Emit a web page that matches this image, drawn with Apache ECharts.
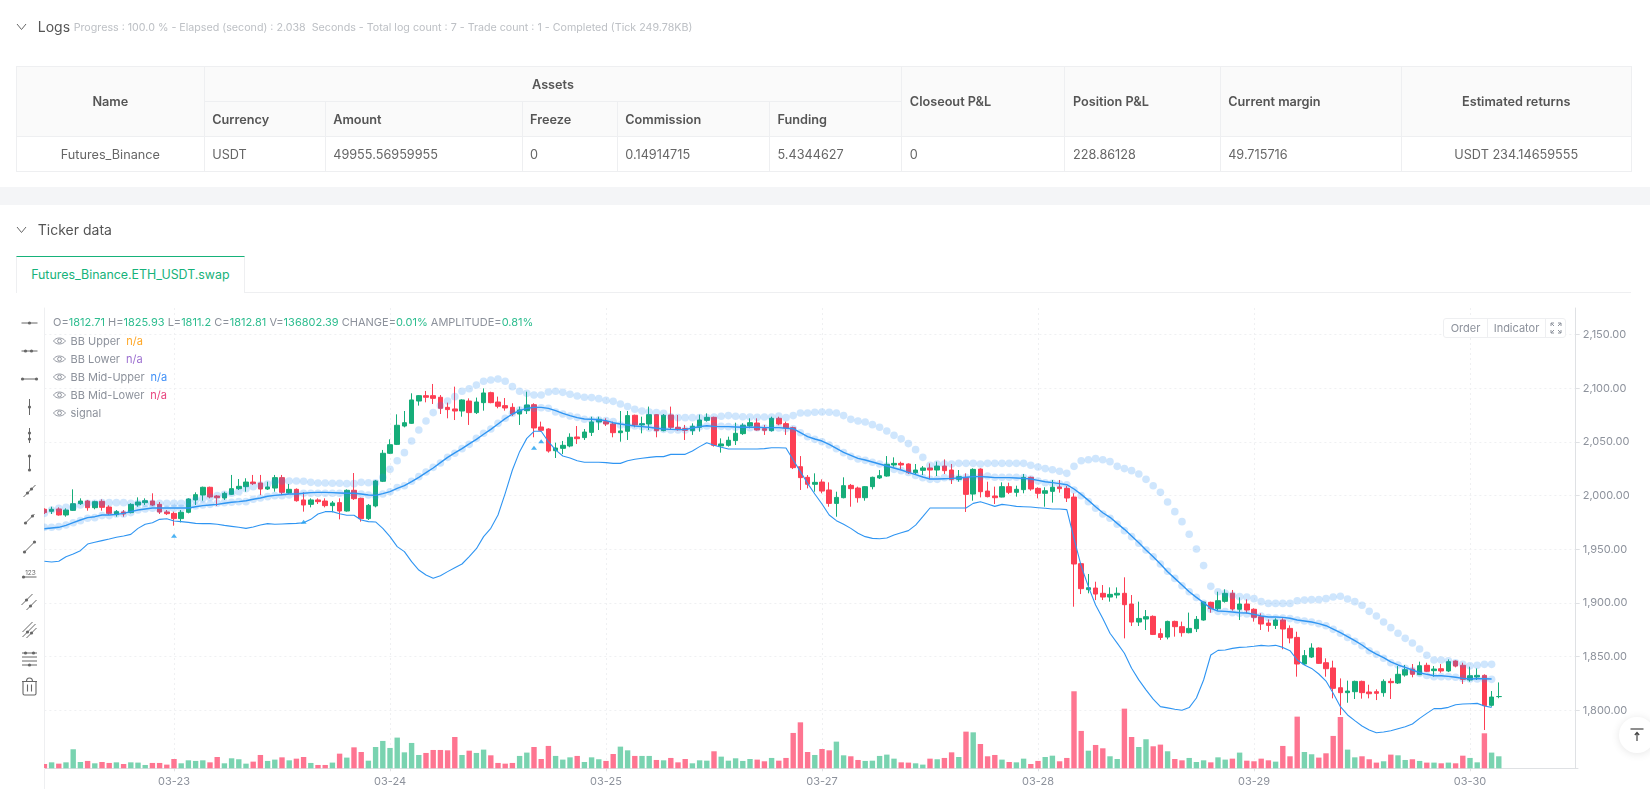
<!DOCTYPE html>
<html><head><meta charset="utf-8"><title>Ticker data</title>
<script src="https://cdn.jsdelivr.net/npm/echarts@6/dist/echarts.min.js"></script>
<style>
html,body{margin:0;padding:0;background:#fff;font-family:Inter,"Noto Sans",sans-serif;overflow:hidden;width:1650px;height:803px}
.abs{position:absolute}
#band{left:0;top:187px;width:1650px;height:18px;background:#f4f5f7}
.hd{font-size:14px;color:#555;line-height:20px;white-space:nowrap}
.sub{font-size:10.7px;color:#bdc0c5;line-height:20px;white-space:pre}
table{position:absolute;left:16px;top:66px;border-collapse:collapse;table-layout:fixed;width:1615px;font-size:12.7px;color:#666}
td,th{border:1px solid #eeeff1;padding:0 7.5px;text-align:left;overflow:hidden;white-space:nowrap}
th{background:#fafafa;color:#555;font-weight:600}
.c{text-align:center}
#tab{left:16px;top:256px;width:228.7px;height:36.7px;border:1px solid #eeeff1;border-top:1px solid #16b27a;border-bottom:none;box-sizing:border-box;color:#16b27a;font-size:12.4px;line-height:35px;text-align:center;background:#fff}
#tabline{left:16px;top:292px;width:1615px;height:1px;background:#eeeff1}
#chart{left:0;top:0;width:1650px;height:803px}
#leftext{left:44px;top:768px;width:1px;height:21px;background:#eeeff1}
#leftmask{left:36px;top:308px;width:8px;height:461px;background:#fff}
.lg{left:53px;font-size:11px;color:#8c919b;white-space:nowrap;line-height:18px}
.lg b{font-weight:400}
.eye{position:absolute;left:0;top:3px}
.btns{left:1443px;top:317.5px;width:123px;height:20px;border:1px solid #eeeff1;border-radius:3px;background:#fff;box-sizing:border-box;font-size:11px;color:#8c919b;line-height:18px}
.btns span{position:absolute;top:0;height:18px;text-align:center}
#top{left:1618.5px;top:717px;width:36px;height:36px;border-radius:50%;background:#fff;box-shadow:0 1px 8px rgba(0,0,0,.1)}
</style></head><body>
<div id="chart" class="abs"></div>
<div id="leftmask" class="abs"></div>
<div id="band" class="abs"></div>
<div id="leftext" class="abs"></div>
<svg class="abs" style="left:16px;top:22px" width="12" height="10"><path d="M1 2 L5.5 7.5 L10 2" fill="none" stroke="#666" stroke-width="1"/></svg>
<div class="abs hd" style="left:37.8px;top:17px">Logs</div>
<div class="abs sub" style="left:73.7px;top:17.5px" id="prog"></div>
<table id="tb"></table>
<svg class="abs" style="left:16px;top:225px" width="12" height="10"><path d="M1 2 L5.5 7.5 L10 2" fill="none" stroke="#666" stroke-width="1"/></svg>
<div class="abs hd" style="left:37.8px;top:220px">Ticker data</div>
<div id="tabline" class="abs"></div>
<div id="tab" class="abs">Futures_Binance.ETH_USDT.swap</div>
<svg id="tools" class="abs" style="left:0;top:300px" width="44" height="400"></svg>
<div id="legend"></div>
<div class="abs btns"><span style="left:0;width:43px;border-right:1px solid #eeeff1">Order</span><span style="left:44px;width:57px;border-right:1px solid #eeeff1">Indicator</span>
<svg class="abs" style="left:106px;top:3.5px" width="12" height="12"><path d="M1 4V1H4M1 1L4 4M8 1H11V4M11 1L8 4M11 8V11H8M11 11L8 8M4 11H1V8M1 11L4 8" fill="none" stroke="#8c919b" stroke-width="1"/></svg></div>
<div id="top" class="abs"><svg width="36" height="36"><path d="M11.5 12H24.5" stroke="#444" stroke-width="1.2"/><path d="M18 24V15.5M15.8 18L18 15.5L20.2 18" stroke="#444" fill="none" stroke-width="1.2"/></svg></div>
<script>
const progressText='Progress : 100.0 % - Elapsed (second) : 2.038  Seconds - Total log count : 7 - Trade count : 1 - Completed (Tick 249.78KB)';
const tickIndex=[18,48,78,108,138,168,198];
const tickLabels=['03-23','03-24','03-25','03-27','03-28','03-29','03-30'];
const priceTicks=[1800,1850,1900,1950,2000,2050,2100,2150];
const opens=[1987.3,1985.4,1987.6,1982.0,1986.3,1992.5,1995.0,1988.8,1994.7,1989.4,
1982.3,1984.8,1984.2,1991.3,1993.5,1995.0,1991.9,1984.8,1983.5,1978.6,
1984.5,1996.0,2000.6,2007.8,1999.7,1997.8,2001.2,2006.5,2008.4,2012.7,
2011.8,2006.2,2007.1,2016.8,2002.5,2005.9,1996.0,1991.9,1996.0,1995.0,
1990.7,1993.5,1985.7,2005.0,1997.5,1978.6,1990.4,2013.4,2039.5,2047.8,
2064.9,2067.4,2088.2,2093.2,2093.2,2091.7,2082.3,2080.8,2078.9,2088.2,
2077.4,2086.7,2096.0,2087.3,2083.9,2082.3,2076.1,2079.2,2084.8,2064.0,
2062.1,2041.9,2044.1,2046.3,2054.7,2054.1,2059.0,2068.7,2069.0,2066.8,
2058.7,2060.0,2074.9,2065.9,2066.8,2075.5,2060.6,2075.2,2063.7,2062.5,
2060.6,2063.7,2070.2,2073.0,2046.3,2046.9,2051.3,2057.8,2064.9,2067.7,
2062.5,2060.6,2072.1,2067.1,
2063.4,2027.0,2017.1,2010.6,2012.7,2005.3,1992.8,1998.1,2009.6,2007.1,
1998.1,2008.4,2016.5,2018.3,2028.6,2030.1,2029.5,2021.4,2023.6,2025.8,
2023.9,2027.6,2023.9,2015.2,2016.8,2001.5,2024.8,2004.3,1999.7,1998.7,
2008.4,2003.1,2005.6,2017.1,2006.8,2002.2,2004.0,2008.1,2006.8,1998.7,
1936.6,1912.4,1913.9,1909.0,1905.5,1907.4,1909.0,1899.0,1882.2,1885.0,
1887.5,1871.4,1868.2,1882.8,
1877.9,1872.3,1876.0,1884.1,1900.6,1894.7,1901.5,1909.0,1894.1,1899.0,
1894.1,1887.2,1881.3,1879.1,1884.1,1876.3,1867.9,1843.1,1849.6,1858.0,
1844.3,1839.4,1821.0,1816.4,1817.3,1826.9,1817.0,1817.3,1816.4,1826.9,
1825.4,1832.8,1838.4,1833.2,1841.9,1836.9,1838.7,1836.6,1845.9,1841.9,
1828.2,1831.0,1832.5,1804.6,1812.71];
const closes=[1984.2,1987.3,1982.0,1986.6,1992.5,1995.0,1988.8,1994.4,1989.1,1983.5,
1985.1,1982.9,1991.9,1994.1,1995.3,1991.3,1984.8,1983.2,1978.6,1984.5,
1996.9,2000.9,2007.8,1998.8,1998.1,2002.2,2006.5,2008.7,2012.7,2011.2,
2006.2,2008.1,2016.8,2003.1,2005.9,1995.3,1991.3,1996.0,1994.4,1990.7,
1993.2,1985.7,2005.0,1997.2,1978.6,1991.0,2013.7,2039.5,2047.5,2065.6,
2068.0,2089.2,2093.2,2091.7,2090.7,2081.4,2080.2,2078.9,2089.2,2077.4,
2087.3,2095.7,2086.7,2083.3,2081.7,2076.1,2079.9,2084.5,2063.1,2060.9,
2041.6,2044.4,2046.9,2054.4,2053.1,2059.3,2068.7,2071.2,2066.8,2058.7,
2060.3,2074.6,2065.9,2067.1,2075.5,2060.6,2074.9,2063.7,2061.5,2060.9,
2064.6,2070.5,2073.0,2046.9,2048.2,2051.6,2058.1,2065.6,2068.0,2061.2,
2060.9,2072.1,2066.8,2063.1,
2026.1,2016.8,2010.6,2012.4,2004.3,1992.8,1998.4,2009.3,2006.5,1998.1,
2008.4,2017.1,2018.6,2029.2,2030.1,2028.6,2021.4,2023.9,2025.8,2023.9,
2027.6,2023.3,2015.2,2017.7,2001.2,2024.5,2003.7,1999.1,1998.1,2008.4,
2003.1,2005.9,2017.1,2006.2,2002.2,2004.6,2007.8,2006.5,1997.8,1936.3,
1913.3,1914.2,1908.3,1905.5,1908.0,1909.0,1898.4,1882.2,1885.6,1887.2,
1870.7,1867.9,1882.8,1877.9,
1872.3,1876.3,1884.7,1900.9,1894.7,1902.1,1909.0,1894.4,1899.0,1893.4,
1886.6,1880.4,1879.1,1884.1,1875.7,1867.3,1843.1,1850.9,1858.0,1843.7,
1838.7,1820.4,1816.4,1817.9,1826.9,1816.4,1815.4,1815.8,1826.9,1825.7,
1833.5,1837.8,1833.5,1841.5,1836.3,1838.4,1836.6,1845.3,1841.2,1828.8,
1832.2,1832.5,1804.3,1812.3,1812.81];
const lows=[1982.9,1982.9,1981.4,1980.4,1985.7,1991.3,1986.0,1987.3,1986.0,1982.0,
1980.4,1980.4,1983.5,1989.7,1991.3,1990.4,1982.9,1982.0,1972.0,1975.1,
1983.5,1991.3,1995.3,1997.5,1990.4,1996.0,2000.6,2005.3,2003.7,2009.9,
2000.6,2005.3,2003.7,2000.6,2001.6,1994.4,1985.1,1989.1,1992.2,1989.1,
1984.5,1977.9,1985.1,1996.0,1975.8,1977.3,1989.1,2012.7,2038.8,2047.2,
2063.7,2066.8,2083.9,2087.0,2085.4,2076.1,2072.1,2070.5,2073.6,2065.9,
2076.1,2079.2,2086.1,2081.4,2079.2,2074.3,2065.9,2076.1,2054.4,2059.7,
2040.1,2035.1,2038.8,2045.1,2048.2,2051.9,2055.6,2061.2,2064.9,2054.4,
2050.3,2051.9,2063.7,2058.1,2061.2,2054.4,2060.0,2061.2,2060.6,2051.9,
2056.6,2059.7,2069.0,2045.7,2040.1,2045.7,2047.2,2056.6,2062.8,2060.6,
2056.6,2059.7,2065.6,2056.6,
2024.8,2005.3,2006.8,2003.7,2002.2,1989.7,1980.4,1997.5,1989.7,1993.5,
1995.3,2005.9,2015.5,2017.7,2027.0,2024.5,2020.2,2020.2,2019.2,2015.2,
2018.3,2020.2,2010.9,2013.0,1984.8,1995.3,1998.4,1998.4,1992.2,1998.4,
2001.5,1999.1,2002.2,2004.6,1997.5,1989.7,1993.5,2002.8,1994.1,1896.5,
1908.3,1909.0,1902.7,1902.7,1901.2,1904.3,1867.0,1878.5,1878.5,1874.8,
1870.1,1865.5,1866.1,1868.6,
1868.6,1871.7,1872.9,1883.5,1890.9,1892.8,1900.3,1892.8,1884.1,1890.3,
1882.6,1874.8,1873.2,1875.7,1856.8,1862.4,1831.3,1842.2,1848.7,1843.1,
1831.3,1811.1,1795.5,1807.0,1810.5,1810.8,1811.1,1809.5,1812.6,1810.5,
1824.5,1831.3,1830.7,1832.8,1835.6,1831.3,1835.0,1835.6,1840.0,1824.5,
1826.6,1828.2,1781.6,1803.3,1811.2];
const highs=[1988.2,1989.7,1989.1,1988.2,2005.9,1997.5,1996.0,1995.3,1996.6,1991.0,
1986.6,1986.6,1992.9,1998.4,1997.5,2002.2,1994.1,1986.6,1985.1,1986.6,
1997.5,2003.1,2008.4,2008.4,2000.6,2003.7,2019.3,2015.5,2016.2,2019.3,
2019.3,2013.0,2019.3,2019.3,2010.9,2006.8,2003.1,1997.5,1997.5,1997.5,
1995.0,1997.5,2005.9,2021.1,1998.1,1992.2,2014.6,2042.6,2052.5,2075.8,
2078.9,2095.4,2093.8,2097.6,2104.1,2093.8,2086.7,2101.6,2089.8,2090.7,
2091.4,2100.0,2096.9,2092.3,2091.0,2086.1,2083.0,2096.9,2086.1,2069.0,
2062.8,2049.4,2051.0,2058.1,2064.9,2062.1,2073.6,2073.6,2072.1,2069.0,
2078.9,2078.9,2075.5,2073.6,2083.0,2076.1,2076.1,2083.0,2075.2,2065.9,
2067.4,2075.5,2076.7,2073.6,2053.4,2055.0,2068.0,2067.4,2072.1,2072.1,
2065.9,2073.6,2073.6,2069.0,
2064.3,2036.9,2019.2,2020.8,2015.2,2012.4,2003.7,2017.1,2010.9,2008.4,
2009.0,2017.7,2023.9,2036.9,2035.7,2031.7,2030.1,2029.5,2027.6,2030.1,
2031.7,2033.8,2029.5,2023.9,2020.8,2025.5,2025.5,2013.0,2008.4,2012.4,
2012.1,2009.3,2020.2,2017.7,2007.8,2007.8,2014.6,2014.6,2009.0,2002.2,
1937.2,1927.0,1919.8,1916.7,1914.5,1914.5,1923.9,1907.4,1901.2,1893.4,
1888.4,1876.3,1883.5,1883.5,
1882.6,1891.0,1887.8,1901.2,1901.2,1910.5,1912.7,1912.1,1905.2,1903.4,
1895.0,1890.3,1884.7,1885.7,1885.7,1879.1,1873.2,1856.1,1862.4,1858.6,
1848.4,1846.2,1829.7,1827.6,1827.6,1827.6,1823.8,1819.5,1828.8,1829.7,
1841.2,1842.2,1843.1,1845.3,1844.3,1841.2,1843.1,1847.4,1846.5,1844.3,
1840.6,1839.0,1833.5,1817.9,1825.93];
const volumesK=[49,68,53,68,217,72,84,57,72,61,68,49,68,65,38,61,61,42,106,57,91,84,91,68,129,57,114,103,53,76,152,84,99,125,91,110,129,61,38,38,65,167,122,239,186,87,243,312,232,350,
182,289,152,175,209,209,205,357,152,201,175,213,148,61,53,61,141,179,243,106,255,141,99,125,141,72,125,103,84,163,247,205,141,141,141,95,91,118,68,106,57,91,87,194,133,87,114,84,106,99,80,118,87,118,403,524,
186,152,220,205,304,148,137,95,84,87,141,156,110,68,65,57,42,110,103,118,182,129,418,410,277,137,152,99,72,68,110,49,84,129,144,80,118,878,426,201,266,228,137,106,680,357,243,331,251,270,194,106,91,118,72,
91,68,125,99,110,179,87,80,110,91,76,255,137,589,186,160,122,171,369,585,213,125,137,103,65,80,156,148,95,103,84,65,65,57,65,57,144,118,68,399,179,136.8];
const upperDots=[1983.5,1986.6,1988.2,1989.1,1989.7,1991.3,1992.9,1992.9,1993.5,1993.5,1993.5,1993.5,1992.9,1992.9,1992.9,1992.9,1992.9,1992.9,1992.9,1992.9,1994.1,1996.0,1997.2,1998.4,2000.0,2001.2,2002.2,2003.7,2006.5,2008.4,2009.9,2010.9,2012.7,2013.7,2013.7,2013.7,2013.4,2012.4,2011.8,2011.8,2011.5,2011.5,2011.2,2011.2,2012.4,2012.1,2012.1,2017.1,2024.5,2032.6,
2040.1,2051.0,2061.2,2069.6,2077.4,2083.9,2088.2,2092.3,2097.3,2099.7,2103.2,2106.6,2107.8,2108.7,2106.6,2101.6,2097.3,2095.4,2093.8,2093.8,2096.6,2097.3,2096.3,2094.5,2092.9,2091.7,2091.4,2090.4,2088.9,2087.9,2085.4,2083.0,2080.5,2078.9,2078.0,2077.4,2076.7,2073.6,2072.7,2072.7,2072.7,2072.7,2072.7,2073.3,2074.0,2074.6,2074.0,2073.6,2073.3,2073.0,2073.3,2073.3,2074.3,2072.7,
2074.6,2077.0,2077.0,2077.7,2078.0,2077.7,2077.0,2074.6,2071.1,2069.6,2068.7,2066.2,2063.7,2060.3,2056.2,2053.1,2048.5,2042.9,2035.7,2028.3,2029.5,2029.5,2029.5,2030.1,2030.1,2030.1,2029.5,2030.1,2030.1,2030.1,2030.1,2030.1,2030.1,2028.3,2026.7,2025.2,2024.2,2022.7,2020.8,2027.3,2032.6,2033.5,2034.5,2033.5,2031.7,2027.3,2025.2,2023.3,2020.2,2015.2,2009.3,2003.1,1994.1,1985.1,
1975.8,1964.0,1950.3,1934.8,1915.5,1910.5,1909.0,1907.1,1905.9,1905.5,1904.0,1901.2,1899.6,1899.6,1899.6,1899.6,1902.1,1902.7,1903.1,1903.1,1904.0,1905.5,1906.2,1903.7,1901.2,1897.8,1892.2,1887.8,1882.2,1877.0,1871.7,1867.0,1862.7,1857.1,1851.2,1846.8,1846.8,1846.2,1844.3,1842.8,1841.5,1841.9,1842.8,1842.8];
const midDots=[1970.5,1970.5,1971.1,1972.7,1974.8,1976.7,1978.9,1979.5,1981.4,1981.4,1982.9,1982.9,1984.2,1986.6,1987.6,1988.2,1987.3,1987.3,1988.2,1988.2,1989.7,1990.4,1991.3,1991.9,1992.9,1993.5,1993.8,1994.4,1994.4,1996.6,1997.8,1999.1,2000.0,2000.0,2000.6,2001.6,2002.2,2002.2,2002.2,2002.2,2002.2,2002.2,2001.6,2001.6,2001.6,2000.6,2000.0,2001.6,2003.7,2007.5,
2009.3,2013.4,2017.7,2022.1,2026.4,2030.4,2035.7,2039.5,2043.8,2047.8,2053.4,2058.1,2062.1,2067.4,2072.1,2076.7,2079.9,2082.0,2081.4,2082.0,2081.4,2078.0,2076.1,2074.3,2073.0,2071.2,2070.5,2070.5,2069.9,2069.0,2065.9,2065.2,2064.9,2064.3,2063.1,2062.5,2061.8,2061.2,2061.2,2061.2,2062.5,2064.3,2064.9,2064.9,2064.6,2064.3,2063.7,2063.7,2063.4,2063.4,2063.1,2063.1,2063.1,2062.5,
2062.4,2058.7,2055.0,2052.5,2050.3,2047.2,2043.8,2040.1,2036.6,2034.2,2032.9,2031.1,2029.5,2027.6,2024.5,2023.3,2021.7,2018.9,2016.8,2015.2,2015.2,2016.8,2016.8,2016.5,2017.1,2017.4,2017.7,2018.3,2017.1,2017.1,2017.1,2017.1,2016.8,2015.5,2013.7,2012.1,2011.5,2010.9,2010.2,2005.3,2000.0,1994.4,1988.2,1982.9,1978.9,1973.3,1967.4,1961.8,1955.6,1949.3,1943.1,1936.3,1929.5,1922.9,
1916.1,1910.5,1905.2,1899.6,1894.1,1892.2,1891.9,1890.9,1890.3,1889.7,1888.8,1887.8,1886.3,1886.0,1886.0,1885.4,1884.1,1883.2,1882.2,1880.7,1878.8,1875.4,1871.7,1867.9,1864.2,1860.2,1855.5,1852.1,1848.4,1844.3,1842.2,1839.1,1836.9,1834.4,1832.5,1831.3,1831.3,1831.3,1830.7,1829.7,1829.1,1829.1,1829.1,1828.8];
const midLine=[1969.2,1969.9,1970.5,1972.3,1974.8,1977.3,1979.5,1980.4,1982.0,1982.0,1982.6,1983.5,1985.1,1986.6,1987.6,1988.5,1988.5,1988.5,1988.5,1988.5,1988.5,1989.7,1990.7,1991.3,1991.9,1992.9,1993.8,1994.4,1995.3,1996.6,1997.8,1999.4,2000.3,2000.9,2001.6,2001.6,2002.2,2002.8,2003.1,2003.1,2002.8,2002.5,2002.2,2002.2,2001.6,2000.6,2000.3,2001.9,2003.7,2006.8,
2009.3,2013.1,2017.1,2021.4,2025.8,2030.8,2035.7,2039.8,2043.8,2048.2,2052.5,2057.2,2061.8,2066.8,2071.8,2076.1,2079.2,2081.4,2082.3,2082.3,2081.4,2079.2,2076.7,2074.6,2072.7,2071.5,2071.2,2070.8,2069.9,2068.0,2066.8,2065.9,2064.9,2064.3,2063.7,2062.8,2062.1,2061.8,2061.5,2061.5,2063.1,2064.3,2065.2,2064.6,2064.3,2064.3,2064.0,2063.7,2063.7,2063.7,2063.4,2063.4,2063.4,2062.8,
2062.4,2058.7,2055.0,2052.8,2050.9,2047.8,2044.1,2040.4,2037.6,2034.8,2033.2,2031.4,2029.5,2027.6,2025.8,2023.9,2021.7,2019.6,2017.4,2015.5,2015.5,2015.8,2016.1,2016.5,2017.1,2017.7,2017.7,2017.4,2016.8,2016.8,2016.8,2016.5,2016.1,2015.5,2014.3,2013.0,2012.1,2011.2,2010.2,2006.2,2001.2,1995.6,1989.7,1984.1,1979.8,1974.2,1968.6,1962.4,1956.2,1949.3,1943.1,1936.3,1929.1,1922.9,
1916.7,1910.5,1905.2,1900.3,1895.0,1892.5,1892.2,1891.6,1890.9,1890.6,1889.4,1887.9,1886.9,1886.9,1886.6,1885.7,1884.1,1883.2,1882.2,1880.7,1878.8,1875.7,1872.3,1868.6,1864.8,1860.8,1856.1,1852.4,1849.0,1845.0,1842.2,1840.0,1837.5,1835.0,1833.5,1832.2,1832.2,1831.6,1830.7,1829.7,1829.1,1829.4,1829.4,1829.1];
const lowerLine=[1938.8,1938.2,1938.8,1943.1,1945.6,1948.7,1954.9,1956.5,1958.1,1959.6,1961.2,1962.4,1963.9,1969.5,1973.3,1974.8,1977.9,1978.5,1976.4,1975.8,1975.1,1974.2,1973.9,1973.9,1973.3,1972.3,1971.4,1970.5,1969.5,1970.8,1972.7,1973.9,1973.3,1973.6,1973.9,1974.2,1974.8,1977.9,1982.9,1985.1,1985.1,1983.2,1981.7,1981.7,1977.3,1975.8,1975.5,1969.5,1961.8,1952.5,
1947.8,1938.5,1930.7,1926.1,1923.0,1925.4,1929.2,1932.9,1936.3,1943.1,1950.6,1961.8,1969.6,1982.0,2002.2,2023.9,2041.0,2053.4,2060.0,2060.0,2050.3,2042.6,2037.0,2035.1,2032.6,2031.1,2031.1,2031.1,2030.8,2030.1,2030.1,2032.6,2033.9,2034.8,2035.7,2036.4,2036.4,2038.5,2038.5,2038.5,2041.6,2045.7,2049.4,2046.9,2045.1,2043.5,2043.5,2043.5,2043.5,2043.5,2043.8,2044.7,2044.7,2044.4,
2033.2,2022.4,2011.5,2001.5,1992.2,1982.0,1976.7,1973.3,1969.5,1964.9,1961.8,1960.2,1959.9,1960.5,1963.3,1965.5,1967.4,1972.6,1980.4,1988.5,1988.5,1988.5,1988.5,1988.5,1988.5,1992.8,1994.4,1992.2,1990.0,1991.9,1991.0,1990.0,1989.7,1989.4,1988.8,1988.2,1987.6,1987.6,1987.0,1960.2,1934.4,1915.2,1898.1,1885.6,1871.8,1862.5,1853.1,1839.1,1828.3,1819.0,1810.3,1803.4,1802.2,1800.9,
1800.0,1802.5,1811.4,1828.2,1851.5,1855.8,1856.1,1857.7,1858.6,1858.9,1859.6,1860.5,1859.9,1860.5,1858.6,1855.5,1846.8,1842.2,1839.0,1833.8,1827.2,1815.8,1803.3,1795.6,1790.3,1785.3,1781.6,1779.1,1779.7,1780.9,1782.8,1784.7,1787.2,1792.4,1797.1,1801.5,1801.5,1802.7,1805.2,1805.8,1806.1,1806.4,1803.9,1802.7];
const signalIndex=[18,36,68,69];
const signalPrice=[1962.7,1975.8,2044.7,2050.6];
const tableHead=['Currency','Amount','Freeze','Commission','Funding'];
const tableRow=['Futures_Binance','USDT','49955.56959955','0','0.14914715','5.4344627','0','228.86128','49.715716','USDT 234.14659555'];
const legendRows=[['BB Upper','n/a','#ffa726'],['BB Lower','n/a','#9c6fd0'],['BB Mid-Upper','n/a','#3d8ef7'],['BB Mid-Lower','n/a','#e8457f'],['signal','','']];
const headline=[['O=','1812.71'],['H=','1825.93'],['L=','1811.2'],['C=','1812.81'],['V=','136802.39'],['CHANGE=','0.01%'],['AMPLITUDE=','0.81%']];

[[opens,203],[closes,203],[lows,203],[highs,203],[volumesK,203],[upperDots,202],[midDots,202],[midLine,202],[lowerLine,202]].forEach((p,k)=>{if(p[0].length!==p[1])throw new Error('array '+k+' len '+p[0].length)});

document.getElementById('prog').textContent=progressText;
// table
const colW=[187.7,121,196.9,95.2,152.2,132.3,163.2,155.2,181.1,230];
let h='<colgroup>'+colW.map(w=>'<col style="width:'+w+'px">').join('')+'</colgroup>';
h+='<tr style="height:35.4px"><th rowspan="2" class="c">Name</th><th colspan="5" class="c">Assets</th><th rowspan="2">Closeout P&amp;L</th><th rowspan="2">Position P&amp;L</th><th rowspan="2">Current margin</th><th rowspan="2" class="c">Estimated returns</th></tr>';
h+='<tr style="height:34.6px">'+tableHead.map(t=>'<th>'+t+'</th>').join('')+'</tr>';
h+='<tr style="height:35.4px">'+tableRow.map((t,i)=>'<td'+((i==0||i==9)?' class="c"':'')+'>'+t+'</td>').join('')+'</tr>';
document.getElementById('tb').innerHTML=h;
// legend
const eye='<svg class="eye" width="13" height="12"><path d="M.5 6C3 2 9.5 2 12.5 6C9.5 10 3 10 .5 6Z" fill="none" stroke="#8c919b" stroke-width=".9"/><circle cx="6.5" cy="6" r="1.9" fill="none" stroke="#8c919b" stroke-width=".9"/></svg>';
let lg='<div class="abs lg" style="top:313px">'+headline.map(p=>p[0]+'<b style="color:#2dbd8f">'+p[1]+'</b>').join(' ')+'</div>';
legendRows.forEach((r,i)=>{lg+='<div class="abs lg" style="top:'+(331.7+i*18)+'px;padding-left:17.5px">'+eye+r[0]+'<b style="color:'+r[2]+';margin-left:6px">'+r[1]+'</b></div>'});
document.getElementById('legend').innerHTML=lg;
// toolbar icons (offset by svg top=300)
const C='#666';
function dot(x,y){return '<circle cx="'+x+'" cy="'+y+'" r="1.6" fill="'+C+'"/>'}
function ln(a,b,c,d){return '<line x1="'+a+'" y1="'+b+'" x2="'+c+'" y2="'+d+'" stroke="'+C+'" stroke-width="1"/>'}
const X=29.5;
const tools=[
 y=>ln(X-8,y,X+8,y)+dot(X,y),
 y=>ln(X-8,y,X+8,y)+dot(X-4,y)+dot(X+2,y),
 y=>ln(X-7,y,X+7,y)+dot(X-7,y)+dot(X+7,y),
 y=>ln(X,y-8,X,y+8)+dot(X,y),
 y=>ln(X,y-7,X,y+8)+dot(X,y-2)+dot(X,y+4),
 y=>ln(X,y-7,X,y+7)+dot(X,y-7)+dot(X,y+7),
 y=>ln(X-6,y+6,X+6,y-6)+dot(X-2,y+2)+dot(X+2,y-2),
 y=>ln(X-5,y+5,X+5,y-5)+dot(X-4,y+4)+dot(X+3,y-3),
 y=>ln(X-5,y+5,X+5,y-5)+dot(X-5,y+5)+dot(X+5,y-5),
 y=>ln(X-6,y+3,X+7,y+3)+dot(X-6,y+3)+'<text x="'+(X+1)+'" y="'+(y+1)+'" font-size="6.5" text-anchor="middle" fill="'+C+'">123</text>',
 y=>ln(X-8,y+3,X+3,y-8)+ln(X-3,y+8,X+7,y-2)+dot(X-3,y-2)+dot(X+1,y+4),
 y=>ln(X-7,y+2,X+3,y-8)+ln(X-7,y+7,X+6,y-6)+ln(X-3,y+8,X+7,y-2)+dot(X-2,y+2)+dot(X+2,y+3),
 y=>ln(X-7.5,y-6,X+7.5,y-6)+ln(X-7.5,y-2,X+7.5,y-2)+ln(X-7.5,y+2,X+7.5,y+2)+ln(X-7.5,y+6,X+7.5,y+6)+dot(X-4,y-6)+dot(X+4,y-6)+dot(X,y+6),
 y=>'<path d="M'+(X-7.5)+' '+(y-5.5)+'H'+(X+7.5)+'M'+(X-6.5)+' '+(y-5.5)+'V'+(y+6.5)+'Q'+(X-6.5)+' '+(y+8)+' '+(X-5)+' '+(y+8)+'H'+(X+5)+'Q'+(X+6.5)+' '+(y+8)+' '+(X+6.5)+' '+(y+6.5)+'V'+(y-5.5)+'M'+(X-3)+' '+(y-5.5)+'Q'+(X-3)+' '+(y-9)+' '+X+' '+(y-9)+'Q'+(X+3)+' '+(y-9)+' '+(X+3)+' '+(y-5.5)+'M'+(X-2)+' '+(y-2.5)+'V'+(y+4.5)+'M'+(X+2)+' '+(y-2.5)+'V'+(y+4.5)+'" fill="none" stroke="'+C+'" stroke-width="1.1"/>'
];
const toolY=[323,351,379,407,435,463,491,519,547,574,602,630,659,687];
document.getElementById('tools').innerHTML=tools.map((f,i)=>f(toolY[i]-300)).join('');

// chart
const N=214;
const categories=Array.from({length:N},()=>'');
tickIndex.forEach((ix,k)=>{categories[ix]=tickLabels[k]});
const isTick=(i,v)=>v!=='';
const candles=opens.map((o,i)=>[o,closes[i],lows[i],highs[i]]);
const volData=volumesK.map((v,i)=>({value:v,itemStyle:{color:closes[i]>=opens[i]?'#79d3b0':'#fe7591'}}));
const signals=signalIndex.map((ix,k)=>[ix,signalPrice[k]]);
const gridCol='#eff0f2';
const fontAxis={color:'#8d929c',fontFamily:'Inter',fontSize:11};
const chart=echarts.init(document.getElementById('chart'),null,{renderer:'canvas'});
chart.setOption({
 animation:false,
 grid:{left:44.4,top:308,width:7.2*(N-1),height:460.3,containLabel:false},
 xAxis:{type:'category',data:categories,boundaryGap:false,
  axisLine:{lineStyle:{color:'#dfe1e4'}},
  axisTick:{show:true,length:3,interval:isTick,lineStyle:{color:'#dfe1e4'}},
  axisLabel:{interval:isTick,margin:8,...fontAxis,hideOverlap:false},
  splitLine:{show:true,interval:isTick,lineStyle:{color:gridCol,type:[2,3]}}},
 yAxis:[{type:'value',position:'right',offset:-2.3,min:1745.9,max:2174.9,scale:true,
   axisLine:{show:true,lineStyle:{color:'#dfe1e4'}},
   axisTick:{show:true,length:4,customValues:priceTicks,lineStyle:{color:'#dfe1e4'}},
   axisLabel:{margin:7,customValues:priceTicks,...fontAxis,formatter:v=>v.toLocaleString('en-US',{minimumFractionDigits:2,maximumFractionDigits:2})},
   splitLine:{show:true,lineStyle:{color:gridCol,type:[2,3]}}},
  {type:'value',position:'left',min:0,max:5247,axisLine:{show:true,onZero:false,lineStyle:{color:'#eeeff1'}},axisTick:{show:false},axisLabel:{show:false},splitLine:{show:false}}],
 series:[
  {name:'Volume',type:'bar',yAxisIndex:1,data:volData,barWidth:5.4,z:2,clip:true},
  {name:'Candles',type:'candlestick',data:candles,barWidth:5,z:3,clip:true,
   itemStyle:{color:'#16ad79',color0:'#fd3f54',borderColor:'#16ad79',borderColor0:'#fd3f54',borderWidth:1}},
  {name:'BB Upper',type:'scatter',data:upperDots,symbolSize:7.6,z:4,itemStyle:{color:'rgba(33,140,245,0.27)'},clip:true},
  {name:'BB Mid',type:'scatter',data:midDots,symbolSize:7.6,z:4,itemStyle:{color:'rgba(33,140,245,0.27)'},clip:true},
  {name:'BB Mid-Upper',type:'line',data:midLine,showSymbol:false,z:5,lineStyle:{color:'#2f95f2',width:1.4},clip:true},
  {name:'BB Lower',type:'line',data:lowerLine,showSymbol:false,z:5,lineStyle:{color:'#2f95f2',width:1.1},clip:true},
  {name:'signal',type:'scatter',data:signals,symbol:'triangle',symbolSize:[6,4],z:6,itemStyle:{color:'#1e9ff0'}}
 ]
});
</script></body></html>
